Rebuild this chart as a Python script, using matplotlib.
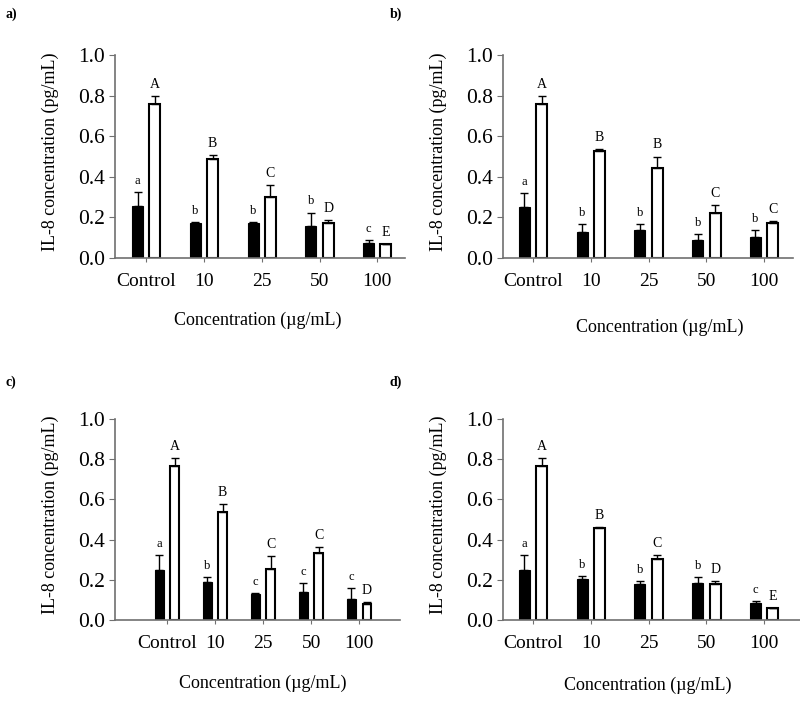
import numpy as np
import matplotlib
matplotlib.use("Agg")
import matplotlib.pyplot as plt

plt.rcParams['font.family'] = ['Liberation Serif', 'DejaVu Serif']

categories = ['Control', '10', '25', '50', '100']

# panel a
a_black = [0.255, 0.173, 0.174, 0.156, 0.072]
a_black_err = [0.071, 0.004, 0.004, 0.068, 0.018]
a_white = [0.760, 0.488, 0.300, 0.173, 0.067]
a_white_err = [0.040, 0.017, 0.059, 0.016, 0.002]
a_black_letters = ['a', 'b', 'b', 'b', 'c']
a_white_letters = ['A', 'B', 'C', 'D', 'E']

# panel b
b_black = [0.253, 0.130, 0.138, 0.090, 0.104]
b_black_err = [0.067, 0.036, 0.028, 0.030, 0.033]
b_white = [0.760, 0.525, 0.444, 0.222, 0.170]
b_white_err = [0.040, 0.011, 0.056, 0.038, 0.013]
b_black_letters = ['a', 'b', 'b', 'b', 'b']
b_white_letters = ['A', 'B', 'B', 'C', 'C']

# panel c
c_black = [0.249, 0.191, 0.131, 0.141, 0.105]
c_black_err = [0.073, 0.022, 0.002, 0.042, 0.053]
c_white = [0.764, 0.538, 0.254, 0.334, 0.080]
c_white_err = [0.042, 0.038, 0.065, 0.030, 0.010]
c_black_letters = ['a', 'b', 'c', 'c', 'c']
c_white_letters = ['A', 'B', 'C', 'C', 'D']

# panel d
d_black = [0.249, 0.206, 0.179, 0.184, 0.083]
d_black_err = [0.073, 0.015, 0.014, 0.029, 0.010]
d_white = [0.764, 0.458, 0.304, 0.181, 0.061]
d_white_err = [0.042, 0.003, 0.020, 0.012, 0.001]
d_black_letters = ['a', 'b', 'b', 'b', 'c']
d_white_letters = ['A', 'B', 'C', 'D', 'E']

W, H = 800, 701
fig = plt.figure(figsize=(W / 100, H / 100), dpi=100)


def px_axes(left, right, top, bottom):
    return fig.add_axes([left / W, 1 - bottom / H, (right - left) / W, (bottom - top) / H])


def draw_panel(ax, black, black_err, white, white_err, bl, wl, xlim, width, off):
    x = np.arange(len(categories))
    ax.bar(x - off, black, width, color='black', edgecolor='black', linewidth=0.8,
           yerr=[np.zeros(len(black)), black_err], capsize=3,
           error_kw=dict(ecolor='black', elinewidth=1, capthick=1))
    ax.bar(x + off, white, width, color='white', edgecolor='black', linewidth=1.5,
           yerr=[np.zeros(len(white)), white_err], capsize=3,
           error_kw=dict(ecolor='black', elinewidth=1, capthick=1))
    for i in range(len(categories)):
        ax.text(x[i] - off, black[i] + black_err[i] + 0.025, bl[i], ha='center',
                va='bottom', fontsize=9)
        ax.text(x[i] + off, white[i] + white_err[i] + 0.025, wl[i], ha='center',
                va='bottom', fontsize=10)
    ax.set_xlim(*xlim)
    ax.set_ylim(0, 1.0)
    ax.set_yticks(np.arange(0, 1.01, 0.2))
    ax.set_yticklabels([f'{v:.1f}' for v in np.arange(0, 1.01, 0.2)], fontsize=15.5)
    ax.set_xticks(x)
    ax.set_xticklabels(categories, fontsize=14)
    for s in ['top', 'right']:
        ax.spines[s].set_visible(False)
    for s in ['left', 'bottom']:
        ax.spines[s].set_color('#707070')
        ax.spines[s].set_linewidth(1.2)
    ax.tick_params(axis='x', length=3, color='#707070', pad=8)
    ax.tick_params(axis='y', length=4, color='#707070', pad=3)


ax_a = px_axes(115, 405, 55, 258)
draw_panel(ax_a, a_black, a_black_err, a_white, a_white_err, a_black_letters,
           a_white_letters, (-0.54, 4.48), 0.19, 0.15)
ax_b = px_axes(503, 793, 55, 258)
draw_panel(ax_b, b_black, b_black_err, b_white, b_white_err, b_black_letters,
           b_white_letters, (-0.52, 4.5), 0.19, 0.15)
ax_c = px_axes(115, 400, 419, 620)
draw_panel(ax_c, c_black, c_black_err, c_white, c_white_err, c_black_letters,
           c_white_letters, (-1.08, 4.85), 0.18, 0.16)
ax_d = px_axes(503, 800, 419, 620)
draw_panel(ax_d, d_black, d_black_err, d_white, d_white_err, d_black_letters,
           d_white_letters, (-0.52, 4.62), 0.19, 0.15)


def ftxt(x, y, s, **kw):
    fig.text(x / W, 1 - y / H, s, **kw)


ylab = 'IL-8 concentration (pg/mL)'
xlab = 'Concentration (\u00b5g/mL)'
ftxt(50, 152, ylab, rotation=90, ha='center', va='center', fontsize=13)
ftxt(438, 152, ylab, rotation=90, ha='center', va='center', fontsize=13)
ftxt(50, 515, ylab, rotation=90, ha='center', va='center', fontsize=13)
ftxt(438, 515, ylab, rotation=90, ha='center', va='center', fontsize=13)
ftxt(258, 320, xlab, ha='center', va='center', fontsize=13)
ftxt(660, 327, xlab, ha='center', va='center', fontsize=13)
ftxt(263, 683, xlab, ha='center', va='center', fontsize=13)
ftxt(648, 685, xlab, ha='center', va='center', fontsize=13)

ftxt(6, 14, 'a)', fontweight='bold', fontsize=10, va='center')
ftxt(390, 14, 'b)', fontweight='bold', fontsize=10, va='center')
ftxt(6, 382, 'c)', fontweight='bold', fontsize=10, va='center')
ftxt(390, 382, 'd)', fontweight='bold', fontsize=10, va='center')

fig.savefig('out.png', dpi=100)
